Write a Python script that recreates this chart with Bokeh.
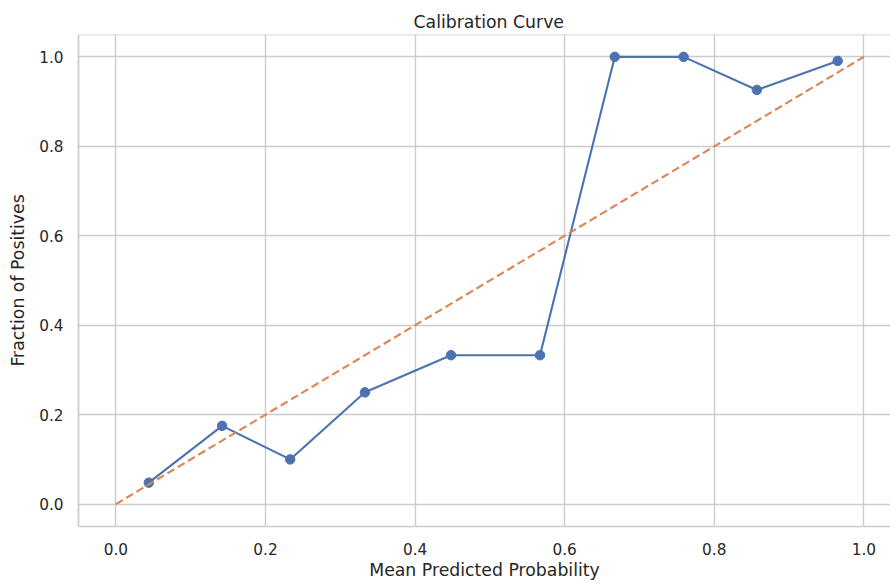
from bokeh.plotting import figure
from bokeh.models import FixedTicker, PrintfTickFormatter, Range1d, Span
from bokeh.embed import file_html
from bokeh.resources import INLINE

# ---- data ----
mean_predicted = [0.044, 0.142, 0.233, 0.333, 0.448, 0.567, 0.667, 0.759, 0.857, 0.965]
fraction_positives = [0.048, 0.175, 0.100, 0.250, 0.333, 0.333, 1.0, 1.0, 0.926, 0.991]
diag_x = [0.0, 1.0]
diag_y = [0.0, 1.0]
tick_values = [0.0, 0.2, 0.4, 0.6, 0.8, 1.0]

BLUE = "#4c72b0"
ORANGE = "#dd8452"
TEXT = "#262626"
GRID = "#cccccc"
FONT = "DejaVu Sans"

p = figure(width=890, height=582, output_backend="svg", toolbar_location=None,
           x_range=Range1d(-0.05, 1.0356), y_range=Range1d(-0.05, 1.05),
           min_border_left=78, min_border_right=0, min_border_top=34, min_border_bottom=56,
           title="Calibration Curve")

p.title.text_font = FONT
p.title.text_font_size = "17.3px"
p.title.text_font_style = "normal"
p.title.text_color = TEXT
p.title.align = "left"
p.title.offset = 335
p.title.standoff = 5

p.outline_line_color = None
p.background_fill_color = "white"
p.border_fill_color = "white"

for ax in (p.xaxis[0], p.yaxis[0]):
    ax.ticker = FixedTicker(ticks=tick_values)
    ax.formatter = PrintfTickFormatter(format="%.1f")
    ax.major_tick_out = 0
    ax.major_tick_in = 0
    ax.minor_tick_out = 0
    ax.minor_tick_in = 0
    ax.axis_line_color = GRID
    ax.axis_line_width = 1.7
    ax.major_label_text_font = FONT
    ax.major_label_text_font_size = "15.3px"
    ax.major_label_text_color = TEXT
    ax.axis_label_text_font = FONT
    ax.axis_label_text_font_size = "17.3px"
    ax.axis_label_text_font_style = "normal"
    ax.axis_label_text_color = TEXT

p.xaxis.axis_label = "Mean Predicted Probability"
p.yaxis.axis_label = "Fraction of Positives"
p.xaxis.major_label_standoff = 16
p.xaxis.axis_label_standoff = 2
p.yaxis.major_label_standoff = 15
p.yaxis.axis_label_standoff = 8

p.xgrid.ticker = FixedTicker(ticks=tick_values)
p.ygrid.ticker = FixedTicker(ticks=tick_values)
p.grid.grid_line_color = GRID
p.grid.grid_line_width = 1.4

top_line = Span(location=p.y_range.end, dimension="width", line_color=GRID, line_width=1.7)
p.add_layout(top_line)

p.line(mean_predicted, fraction_positives, line_color=BLUE, line_width=2.1)
p.scatter(mean_predicted, fraction_positives, marker="circle", size=9.5,
          fill_color=BLUE, line_color=BLUE)
p.line(diag_x, diag_y, line_color=ORANGE, line_width=2.1, line_dash="8 4")

open("out.html", "w").write(file_html(p, INLINE))
